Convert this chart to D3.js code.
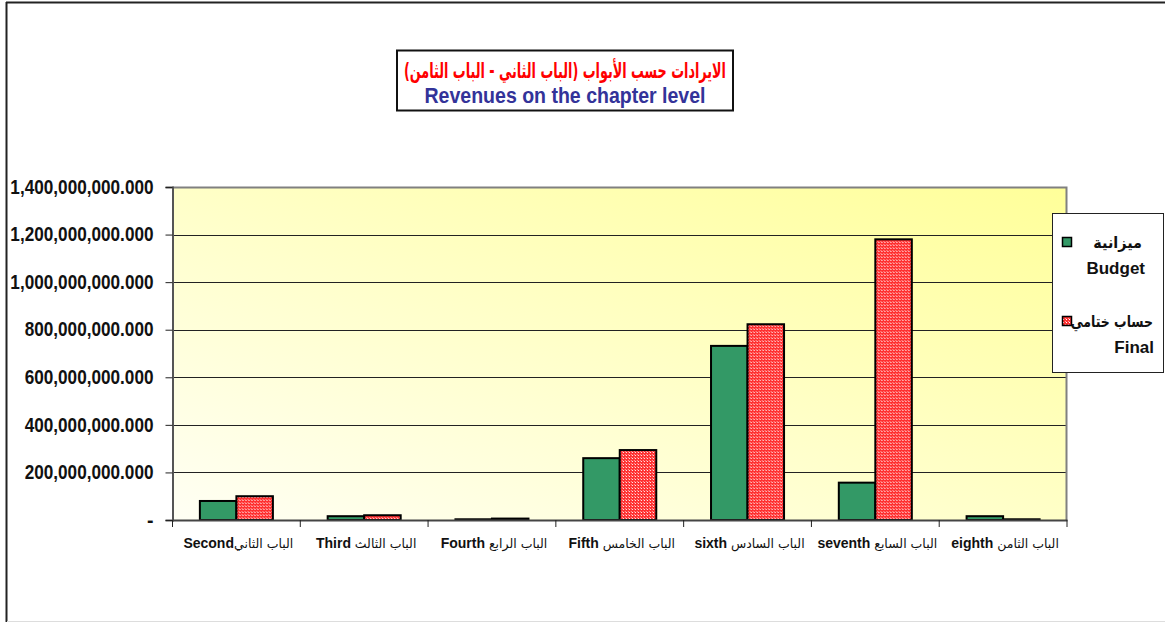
<!DOCTYPE html>
<html>
<head>
<meta charset="utf-8">
<script src="https://cdn.jsdelivr.net/npm/d3@7"></script>
<style>
  body { margin: 0; background: #fff; }
  svg { display: block; }
</style>
</head>
<body>
<svg id="chart" width="1165" height="622"></svg>
<script>
// data
const categoriesEn = ['Second', 'Third', 'Fourth', 'Fifth', 'sixth', 'seventh', 'eighth'];
const categoriesAr = ['الباب الثاني', 'الباب الثالث', 'الباب الرابع', 'الباب الخامس', 'الباب السادس', 'الباب السابع', 'الباب الثامن'];
const budget = [80e6, 16e6, 3e6, 260e6, 732e6, 157e6, 16e6];
const finalAcc = [100e6, 20e6, 6e6, 294e6, 823e6, 1180e6, 3e6];
const yTicks = [0, 200e6, 400e6, 600e6, 800e6, 1000e6, 1200e6, 1400e6];
const seriesKeys = ['budget', 'final'];
const titleAr = 'الايرادات حسب الأبواب (الباب الثاني - الباب الثامن)';
const titleEn = 'Revenues on the chapter level';

const svg = d3.select('#chart');
const margin = {top: 187, right: 98, bottom: 102, left: 172.5};
const W = 1165, H = 622;
const w = W - margin.left - margin.right;
const h = H - margin.top - margin.bottom;

// outer frame (left + top only visible)
svg.append('line').attr('x1', 6.5).attr('x2', 6.5).attr('y1', 2).attr('y2', 622)
  .attr('stroke', '#222').attr('stroke-width', 2);
svg.append('line').attr('x1', 6).attr('x2', 1165).attr('y1', 2.5).attr('y2', 2.5)
  .attr('stroke', '#222').attr('stroke-width', 2);
svg.append('line').attr('x1', 7).attr('x2', 1165).attr('y1', 621.5).attr('y2', 621.5)
  .attr('stroke', '#ddd').attr('stroke-width', 1);

const defs = svg.append('defs');
const grad = defs.append('linearGradient').attr('id', 'bg')
  .attr('x1', '1').attr('y1', '0').attr('x2', '0').attr('y2', '1');
grad.append('stop').attr('offset', '0%').attr('stop-color', '#ffff99');
grad.append('stop').attr('offset', '55%').attr('stop-color', '#ffffcc');
grad.append('stop').attr('offset', '100%').attr('stop-color', '#fffff4');

const pat = defs.append('pattern').attr('id', 'redpat')
  .attr('width', 3).attr('height', 3).attr('patternUnits', 'userSpaceOnUse');
pat.append('rect').attr('width', 3).attr('height', 3).attr('fill', '#ff3030');
pat.append('rect').attr('x', 1).attr('y', 1).attr('width', 1).attr('height', 1).attr('fill', '#ffffff');
pat.append('rect').attr('x', 0).attr('y', 0).attr('width', 1).attr('height', 1).attr('fill', '#ffa0a0');

// scales
const x0 = d3.scaleBand().domain(categoriesEn).range([0, w]).padding(0);
const x1 = d3.scaleBand().domain(seriesKeys).range([0, x0.bandwidth()])
  .paddingInner(0).paddingOuter(0.75);
const y = d3.scaleLinear().domain([0, 1400e6]).range([h, 0]);
const color = {budget: '#339966', final: 'url(#redpat)'};

const main = svg.append('g').attr('transform', `translate(${margin.left},${margin.top})`);

main.append('rect').attr('width', w).attr('height', h).attr('fill', 'url(#bg)');

// grid
main.append('g').selectAll('line').data(yTicks.slice(1, -1)).join('line')
  .attr('x1', 0).attr('x2', w)
  .attr('y1', d => Math.round(y(d)) + 0.5).attr('y2', d => Math.round(y(d)) + 0.5)
  .attr('stroke', '#222').attr('stroke-width', 1);

// plot border
main.append('path')
  .attr('d', `M0.5,${h} V0.5 H${w - 0.5} V${h}`)
  .attr('fill', 'none').attr('stroke', '#808080').attr('stroke-width', 2);

// y axis
const fmt = d3.format(',.3f');
const yAxis = main.append('g').call(d3.axisLeft(y).tickValues(yTicks).tickSize(7)
  .tickFormat(d => d === 0 ? '-' : fmt(d)));
yAxis.select('.domain').attr('stroke', '#555').attr('stroke-width', 2);
yAxis.selectAll('line').attr('stroke', '#222');
yAxis.selectAll('text')
  .attr('x', -19)
  .attr('font-family', '"Liberation Sans", Arial, sans-serif')
  .attr('font-weight', 'bold').attr('font-size', 19.5).attr('fill', '#111')
  .each(function() {
    const len = this.getComputedTextLength();
    if (len > 20) d3.select(this).attr('textLength', len * 0.88).attr('lengthAdjust', 'spacingAndGlyphs');
  });

// bars
const groups = main.append('g').selectAll('g').data(categoriesEn).join('g')
  .attr('transform', d => `translate(${x0(d)},0)`);
groups.selectAll('rect')
  .data((d, i) => [{key: 'budget', v: budget[i]}, {key: 'final', v: finalAcc[i]}])
  .join('rect')
  .attr('x', d => x1(d.key))
  .attr('y', d => y(d.v))
  .attr('width', x1.bandwidth())
  .attr('height', d => h - y(d.v))
  .attr('fill', d => color[d.key])
  .attr('stroke', '#000').attr('stroke-width', 2);

// x axis
const xAxis = main.append('g').attr('transform', `translate(0,${h})`)
  .call(d3.axisBottom(x0).tickSize(0).tickFormat(''));
xAxis.select('.domain').attr('stroke', '#444').attr('stroke-width', 2);
main.append('g').attr('transform', `translate(0,${h})`).selectAll('line')
  .data(d3.range(categoriesEn.length + 1)).join('line')
  .attr('x1', i => i * x0.step()).attr('x2', i => i * x0.step())
  .attr('y1', 0).attr('y2', 7).attr('stroke', '#222');

const xl = main.append('g').selectAll('text').data(categoriesEn).join('text')
  .attr('x', d => x0(d) + x0.bandwidth() / 2 + 2)
  .attr('y', h + 28)
  .attr('text-anchor', 'middle')
  .attr('fill', '#111');
xl.append('tspan').text((d, i) => i === 0 ? d : d + '  ')
  .attr('font-family', '"Liberation Sans", Arial, sans-serif')
  .attr('font-weight', 'bold').attr('font-size', 14);
xl.append('tspan').text((d, i) => categoriesAr[i])
  .attr('font-family', '"DejaVu Sans", sans-serif')
  .attr('font-size', 12.5);

// title box
const tb = svg.append('g');
tb.append('rect').attr('x', 397).attr('y', 50.5).attr('width', 336).attr('height', 60)
  .attr('fill', '#fff').attr('stroke', '#111').attr('stroke-width', 2);
tb.append('text').attr('x', 565).attr('y', 78).attr('text-anchor', 'middle')
  .attr('direction', 'rtl')
  .attr('font-family', '"DejaVu Sans", sans-serif').attr('font-weight', 'bold')
  .attr('font-size', 21).attr('fill', '#ff0000')
  .attr('textLength', 322).attr('lengthAdjust', 'spacingAndGlyphs')
  .text(titleAr);
tb.append('text').attr('x', 565).attr('y', 103).attr('text-anchor', 'middle')
  .attr('font-family', '"Liberation Sans", Arial, sans-serif')
  .attr('font-weight', 'bold').attr('font-size', 22).attr('fill', '#333399')
  .attr('textLength', 281).attr('lengthAdjust', 'spacingAndGlyphs')
  .text(titleEn);

// legend
const lg = svg.append('g');
lg.append('rect').attr('x', 1052.5).attr('y', 213.5).attr('width', 111).attr('height', 159)
  .attr('fill', '#fff').attr('stroke', '#222').attr('stroke-width', 1);
const legendItems = [
  {key: 'budget', ar: 'ميزانية', en: 'Budget', y: 237, enEnd: 1145, arEnd: 1142, sx: 0.9},
  {key: 'final', ar: 'حساب ختامي', en: 'Final', y: 316, enEnd: 1154, arEnd: 1153, sx: 0.78}
];
const li = lg.selectAll('g').data(legendItems).join('g');
li.append('rect').attr('x', 1062.5).attr('y', d => d.y + 0.5).attr('width', 9).attr('height', 9)
  .attr('fill', d => color[d.key]).attr('stroke', '#000').attr('stroke-width', 1.5);
li.append('text')
  .attr('transform', d => `translate(${d.arEnd},${d.y + 11}) scale(${d.sx},1)`)
  .attr('text-anchor', 'end')
  .attr('font-family', '"DejaVu Sans", sans-serif').attr('font-weight', 'bold')
  .attr('font-size', 16).attr('fill', '#111')
  .text(d => d.ar);
li.append('text').attr('x', d => d.enEnd).attr('y', d => d.y + 37)
  .attr('text-anchor', 'end')
  .attr('font-family', '"Liberation Sans", Arial, sans-serif').attr('font-weight', 'bold')
  .attr('font-size', 17).attr('fill', '#111')
  .text(d => d.en);
</script>
</body>
</html>
